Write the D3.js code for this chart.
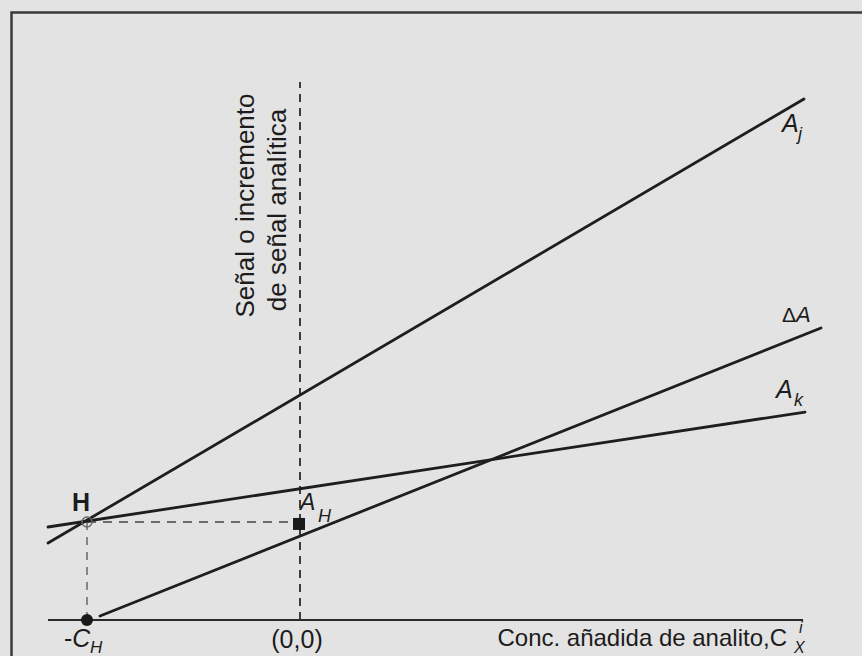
<!DOCTYPE html>
<html><head><meta charset="utf-8">
<script src="https://cdn.jsdelivr.net/npm/d3@7"></script>
<style>
html,body{margin:0;padding:0;background:#e3e3e3;}
svg{display:block;}
text{font-family:"Liberation Sans",Arial,sans-serif;fill:#1c1c1c;}
</style></head>
<body>
<script>
// Data (x: added analyte concentration, C_H = 1; y: signal, A_H = 1)
const lineNames = ["Aj", "Ak", "dA"];
const lineX0 = [-1.183, -1.183, -0.939];
const lineY0 = [0.786, 0.949, 0.041];
const lineX1 = [2.366, 2.371, 2.446];
const lineY1 = [5.316, 2.122, 2.980];
const axisX = [-1.183, 2.362];
const yAxisTop = 5.49;
const pointH = [-1, 1];        // open circle H
const pointCH = [-1, 0];       // -C_H
const pointAH = [0, 0.98];     // A_H square
const tickLabels = ["-C", "(0,0)"];

const W = 862, H = 656;
const x = d3.scaleLinear().domain([-1, 0]).range([87, 300]);
const y = d3.scaleLinear().domain([0, 1]).range([620, 522]);

const svg = d3.select("body").append("svg").attr("width", W).attr("height", H);
svg.append("rect").attr("width", W).attr("height", H).attr("fill", "#e3e3e3");

// frame (left & top)
svg.append("path").attr("d", `M11.5,${H} L11.5,12.5 L${W},12.5`)
  .attr("fill", "none").attr("stroke", "#3a3a3a").attr("stroke-width", 2.5);

// x axis
svg.append("line").attr("x1", x(axisX[0])).attr("x2", x(axisX[1]))
  .attr("y1", y(0)).attr("y2", y(0)).attr("stroke", "#2a2a2a").attr("stroke-width", 2.2);

// y axis dashed at x=0
svg.append("line").attr("x1", x(0)).attr("x2", x(0)).attr("y1", y(0)).attr("y2", y(yAxisTop))
  .attr("stroke", "#2a2a2a").attr("stroke-width", 1.8).attr("stroke-dasharray", "8,6");

// dashed guides from H
svg.append("line").attr("x1", x(pointH[0])).attr("x2", x(pointAH[0]))
  .attr("y1", y(pointH[1])).attr("y2", y(pointH[1]))
  .attr("stroke", "#444").attr("stroke-width", 1.3).attr("stroke-dasharray", "9,7");
svg.append("line").attr("x1", x(pointH[0])).attr("x2", x(pointH[0]))
  .attr("y1", y(pointH[1])).attr("y2", y(0))
  .attr("stroke", "#555").attr("stroke-width", 1.3).attr("stroke-dasharray", "8,7");

// lines
lineNames.forEach((n, i) => {
  svg.append("line").attr("x1", x(lineX0[i])).attr("y1", y(lineY0[i]))
    .attr("x2", x(lineX1[i])).attr("y2", y(lineY1[i]))
    .attr("stroke", "#1e1e1e").attr("stroke-width", 2.8).attr("stroke-linecap", "round");
});

// points
svg.append("circle").attr("cx", x(pointH[0])).attr("cy", y(pointH[1])).attr("r", 5)
  .attr("fill", "none").attr("stroke", "#666").attr("stroke-width", 1.4);
svg.append("circle").attr("cx", x(pointCH[0])).attr("cy", y(pointCH[1])).attr("r", 6)
  .attr("fill", "#1a1a1a");
svg.append("rect").attr("x", x(pointAH[0]) - 7).attr("y", y(pointAH[1]) - 6)
  .attr("width", 12).attr("height", 12).attr("fill", "#1a1a1a");

// y label (rotated)
svg.append("text").attr("transform", "translate(254,205.5) rotate(-90)")
  .attr("text-anchor", "middle").attr("font-size", 26).text("Señal o incremento");
svg.append("text").attr("transform", "translate(286,210) rotate(-90)")
  .attr("text-anchor", "middle").attr("font-size", 26).text("de señal analítica");

// x label
svg.append("text").attr("x", 787).attr("y", 646).attr("text-anchor", "end")
  .attr("font-size", 24).text("Conc. añadida de analito,C");
svg.append("text").attr("x", 794).attr("y", 653).attr("font-size", 16)
  .attr("font-style", "italic").text("X");
svg.append("text").attr("x", 799).attr("y", 633).attr("font-size", 16)
  .attr("font-style", "italic").text("i");

// tick labels
const t1 = svg.append("text").attr("x", 64).attr("y", 647).attr("font-size", 25);
t1.append("tspan").text("-");
t1.append("tspan").attr("font-style", "italic").text("C");
svg.append("text").attr("x", 90).attr("y", 653).attr("font-size", 17)
  .attr("font-style", "italic").text("H");
svg.append("text").attr("x", x(0) - 3).attr("y", 648).attr("text-anchor", "middle")
  .attr("font-size", 25).text(tickLabels[1]);

// point labels
svg.append("text").attr("x", 72).attr("y", 511).attr("font-size", 25)
  .attr("font-weight", "bold").text("H");
svg.append("text").attr("x", 300).attr("y", 510).attr("font-size", 23)
  .attr("font-style", "italic").text("A");
svg.append("text").attr("x", 318).attr("y", 522).attr("font-size", 18)
  .attr("font-style", "italic").text("H");

// line labels
svg.append("text").attr("x", 782).attr("y", 132).attr("font-size", 25)
  .attr("font-style", "italic").text("A");
svg.append("text").attr("x", 798).attr("y", 140).attr("font-size", 18)
  .attr("font-style", "italic").text("j");
const dl = svg.append("text").attr("x", 782).attr("y", 322).attr("font-size", 21);
dl.append("tspan").text("Δ");
dl.append("tspan").attr("font-style", "italic").attr("font-size", 22).text("A");
svg.append("text").attr("x", 776).attr("y", 398).attr("font-size", 25)
  .attr("font-style", "italic").text("A");
svg.append("text").attr("x", 794).attr("y", 406).attr("font-size", 18)
  .attr("font-style", "italic").text("k");
</script>
</body></html>
